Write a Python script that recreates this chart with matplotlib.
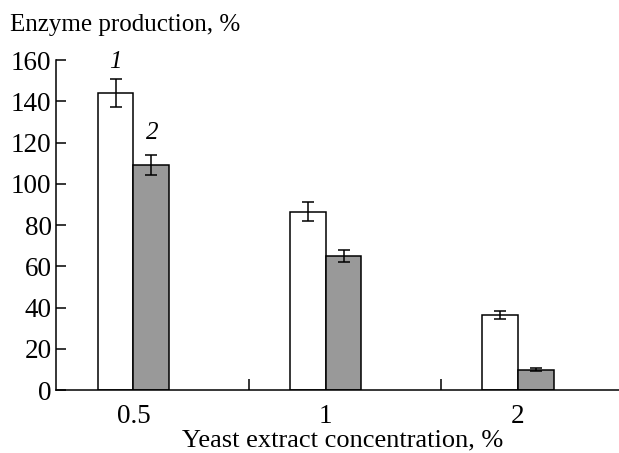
import numpy as np
import matplotlib
matplotlib.use("Agg")
import matplotlib.pyplot as plt

# values
concentrations = ["0.5", "1", "2"]
series1 = [144, 86.5, 36.5]
series1_err = [7.0, 4.6, 1.9]
series2 = [109, 65, 9.9]
series2_err = [4.8, 3.1, 0.6]

plt.rcParams["font.family"] = ["Liberation Serif", "DejaVu Serif"]

fig = plt.figure(figsize=(6.19, 4.53), dpi=100)
ax = fig.add_axes([0.09, 0.139, 0.92, 0.7285])

x = np.arange(len(concentrations))
w = 0.187
ax.bar(x - w / 2, series1, w, color="white", edgecolor="black", linewidth=1.1)
ax.bar(x + w / 2, series2, w, color="#999999", edgecolor="black", linewidth=1.1)
ax.errorbar(x - w / 2, series1, yerr=series1_err, fmt="none", ecolor="black",
            elinewidth=1.1, capsize=4, capthick=1.1)
ax.errorbar(x + w / 2, series2, yerr=series2_err, fmt="none", ecolor="black",
            elinewidth=1.1, capsize=4, capthick=1.1)

# series labels
ax.text(-0.093, 159, "1", style="italic", fontsize=18, ha="center", va="center")
ax.text(0.10, 124.5, "2", style="italic", fontsize=18, ha="center", va="center")

ax.set_xlim(-0.405, 2.56)
ax.set_ylim(0, 160)
ax.set_yticks(range(0, 161, 20))
ax.set_xticks(x)
ax.set_xticklabels(concentrations)
ax.set_xticks([0.6, 1.6], minor=True)
ax.tick_params(axis="x", which="major", length=0, labelsize=19.5, pad=10)
ax.tick_params(axis="x", which="minor", direction="in", length=8, width=1.1)
ax.tick_params(axis="y", direction="in", length=7, width=1.1, labelsize=19.5, pad=3)

for side in ["top", "right"]:
    ax.spines[side].set_visible(False)
for side in ["left", "bottom"]:
    ax.spines[side].set_linewidth(1.1)

fig.text(0.016, 0.945, "Enzyme production, %", fontsize=18, ha="left", va="center")
fig.text(0.553, 0.004, "Yeast extract concentration, %", fontsize=19, ha="center", va="bottom")

fig.savefig("out.png", dpi=100)
